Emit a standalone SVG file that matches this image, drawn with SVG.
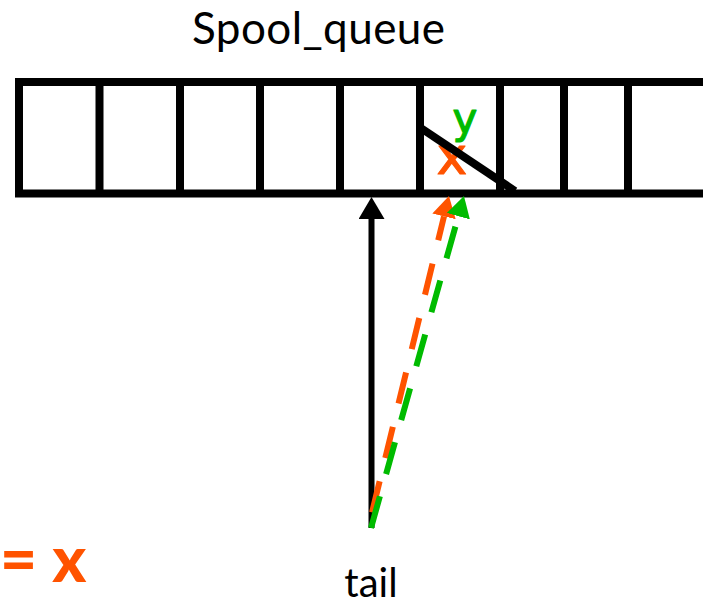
<svg xmlns="http://www.w3.org/2000/svg" width="703" height="606" viewBox="0 0 703 606">
  <style>
    .label { font-family: "Lato", "Open Sans", "DejaVu Sans", sans-serif; fill: #000; }
    .cell { fill: none; stroke: #000; stroke-width: 8; }
    .orange { fill: #FF5300; }
    .green { fill: #00BB00; }
    .mark { font-family: "DejaVu Sans", sans-serif; text-anchor: middle; stroke-width: 1.2; stroke-linejoin: round; }
  </style>
  <defs>
    <marker id="head-black" markerUnits="userSpaceOnUse" markerWidth="22" markerHeight="26" refX="0" refY="13" orient="auto">
      <path d="M0,0 L22,13 L0,26 z" fill="#000"/>
    </marker>
    <marker id="head-orange" markerUnits="userSpaceOnUse" markerWidth="21" markerHeight="24" refX="0" refY="12" orient="auto">
      <path d="M0,0 L21,12 L0,24 z" fill="#FF5300"/>
    </marker>
    <marker id="head-green" markerUnits="userSpaceOnUse" markerWidth="21" markerHeight="24" refX="0" refY="12" orient="auto">
      <path d="M0,0 L21,12 L0,24 z" fill="#00BB00"/>
    </marker>
  </defs>
  <rect width="703" height="606" fill="#fff"/>

  <!-- queue title -->
  <g id="title">
    <text class="label" x="192" y="44" font-size="44" textLength="253" lengthAdjust="spacing">Spool_queue</text>
  </g>

  <!-- the queue: open-ended row of cells -->
  <g id="queue">
    <path class="cell" d="M710,82 H19 V193.5 H710"/>
    <path class="cell" d="M99.5,82 V193.5 M180,82 V193.5 M260,82 V193.5 M340,82 V193.5 M420,82 V193.5 M500,82 V193.5 M564,82 V193.5 M628,82 V193.5"/>
  </g>

  <!-- slot contents: old value x crossed out, new value y -->
  <g id="slot">
    <text class="mark orange" x="452" y="174" font-size="52" stroke="#FF5300">x</text>
    <text class="mark green" x="465" y="133" font-size="42" stroke="#00BB00">y</text>
    <line x1="421.5" y1="128.5" x2="515" y2="191" stroke="#000" stroke-width="8"/>
  </g>

  <!-- tail pointer and its updates -->
  <g id="connectors">
    <line x1="371.5" y1="528" x2="371.5" y2="219" stroke="#000" stroke-width="6" marker-end="url(#head-black)"/>
    <line x1="369" y1="525" x2="444" y2="216.4" stroke="#FF5300" stroke-width="6" stroke-dasharray="32 24" stroke-dashoffset="43" marker-end="url(#head-orange)"/>
    <line x1="371" y1="528" x2="458.3" y2="216.2" stroke="#00BB00" stroke-width="6" stroke-dasharray="33 23" marker-end="url(#head-green)"/>
  </g>

  <g id="tail">
    <text class="label" x="371" y="597" font-size="40" text-anchor="middle">tail</text>
  </g>

  <g id="assign">
    <text x="0" y="582" font-family="Lato, sans-serif" font-weight="900" font-size="64" class="orange">= x</text>
  </g>
</svg>
